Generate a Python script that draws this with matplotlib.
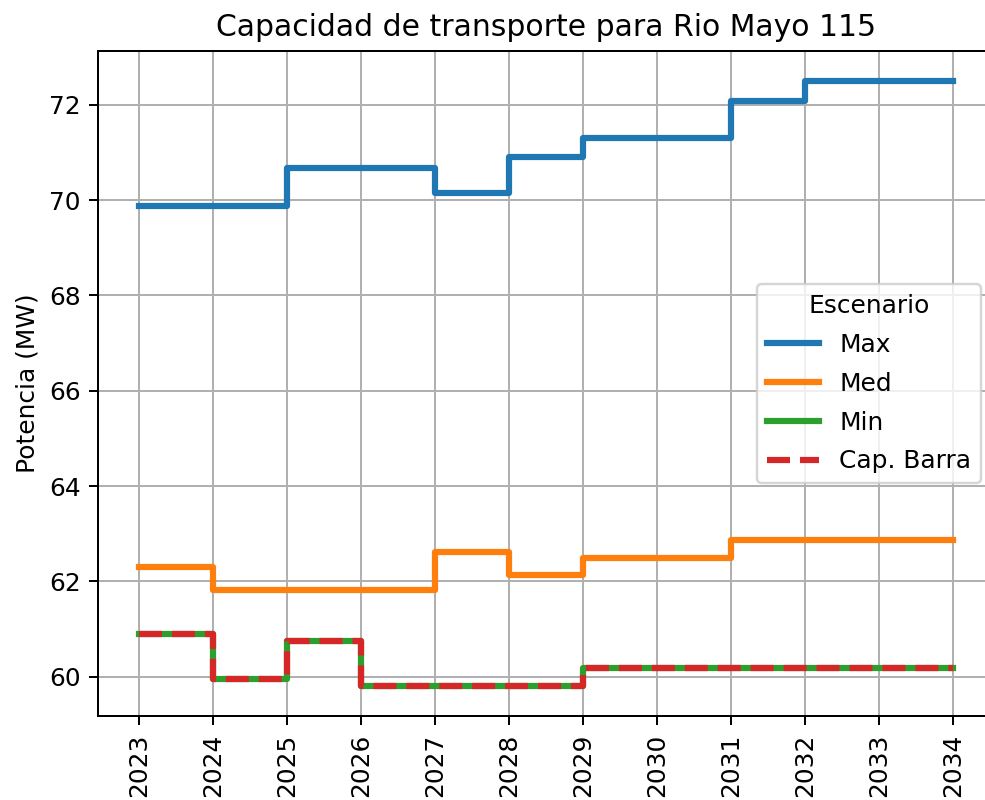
import numpy as np
import matplotlib
matplotlib.use("Agg")
import matplotlib.pyplot as plt

years = [2023, 2024, 2025, 2026, 2027, 2028, 2029, 2030, 2031, 2032, 2033, 2034]
cap_max = [69.87, 69.87, 70.68, 70.68, 70.14, 70.90, 71.31, 71.31, 72.07, 72.49, 72.49, 72.49]
cap_med = [62.30, 61.81, 61.81, 61.81, 62.62, 62.13, 62.49, 62.49, 62.86, 62.86, 62.86, 62.86]
cap_min = [60.90, 59.95, 60.74, 59.81, 59.81, 59.81, 60.19, 60.19, 60.19, 60.19, 60.19, 60.19]
cap_barra = [60.90, 59.95, 60.74, 59.81, 59.81, 59.81, 60.19, 60.19, 60.19, 60.19, 60.19, 60.19]

dpi = 179
fig = plt.figure(figsize=(985 / dpi, 800 / dpi), dpi=dpi)
ax = fig.add_axes([0.0998, 0.105, 0.909, 0.831])

ax.step(years, cap_max, where="post", lw=2.5, color="#1f77b4", label="Max")
ax.step(years, cap_med, where="post", lw=2.5, color="#ff7f0e", label="Med")
ax.step(years, cap_min, where="post", lw=2.5, color="#2ca02c", label="Min")
ax.step(years, cap_barra, where="post", lw=2.5, color="#d62728",
        ls="--", label="Cap. Barra")

ax.set_xticks(years)
ax.set_xticklabels([str(y) for y in years], rotation=90)
ax.set_ylabel("Potencia (MW)")
ax.set_title("Capacidad de transporte para Rio Mayo 115")
ax.grid(True)
ax.legend(title="Escenario", loc="center right", labelspacing=0.6,
          handlelength=2.1)

fig.savefig("out.png", dpi=dpi)
